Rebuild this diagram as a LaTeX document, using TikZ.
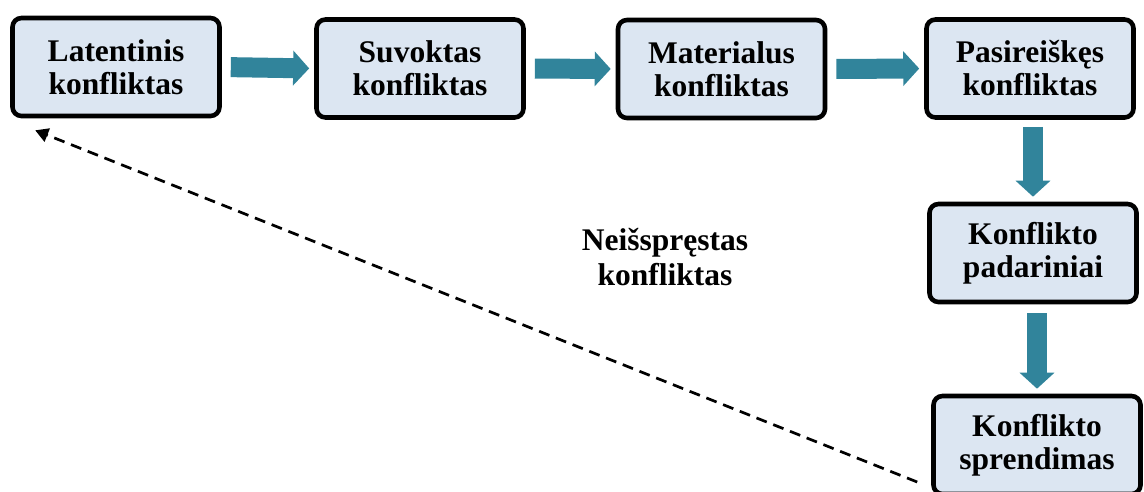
\documentclass[tikz,border=0pt]{standalone}
\usepackage{fontspec}
\setmainfont{Liberation Serif}
\usetikzlibrary{arrows.meta}
\definecolor{flowteal}{HTML}{31849B}
\definecolor{boxfill}{HTML}{DCE6F2}
\tikzset{
  stagebox/.style={draw=black, line width=4.6pt, rounded corners=9pt, fill=boxfill,
    minimum width=207pt, minimum height=98pt, align=center, inner sep=0pt,
    font=\bfseries\fontsize{31.5}{33}\selectfont},
  bigarrow/.style={draw=flowteal, line width=20pt,
    -{Triangle[length=16pt, width=34pt, fill=flowteal]}},
  backarrow/.style={draw=black, line width=2.7pt, dash pattern=on 11pt off 7pt,
    -{Triangle[length=13pt, width=14pt]}},
  freelabel/.style={align=center, font=\bfseries\fontsize{31.5}{35}\selectfont}
}
\begin{document}
\begin{tikzpicture}[x=1pt, y=1pt]
  \useasboundingbox (0,0) rectangle (1144,-491);
  \clip (0,0) rectangle (1144,-491);

  % process stages
  \node[stagebox] (b1) at (116,-67)   {Latentinis\\konfliktas};
  \node[stagebox] (b2) at (420,-68.5) {Suvoktas\\konfliktas};
  \node[stagebox] (b3) at (721.5,-69) {Materialus\\konfliktas};
  \node[stagebox] (b4) at (1030,-68.5) {Pasireiškęs\\konfliktas};
  \node[stagebox] (b5) at (1033,-253) {Konflikto\\padariniai};
  \node[stagebox] (b6) at (1037,-445) {Konflikto\\sprendimas};

  % forward flow
  \draw[bigarrow, shorten <=9pt, shorten >=5pt] (b1.east) -- (b2.west);
  \draw[bigarrow, shorten <=9pt, shorten >=5pt] (b2.east) -- (b3.west);
  \draw[bigarrow, shorten <=9pt, shorten >=5pt] (b3.east) -- (b4.west);
  \draw[bigarrow, shorten <=7pt, shorten >=5pt] (b4.south -| b5.north) -- (b5.north);
  \draw[bigarrow, shorten <=9pt, shorten >=5pt] (b5.south -| b6.north) -- (b6.north);

  % feedback loop for an unresolved conflict
  \coordinate (loopstart) at ([shift={(-14pt,-37pt)}]b6.west);
  \coordinate (loopend) at ([shift={(25pt,-12pt)}]b1.south west);
  \draw[backarrow] (loopstart) -- (loopend);

  \node[freelabel] (unres) at (665,-257) {Neišspręstas\\konfliktas};
\end{tikzpicture}
\end{document}
